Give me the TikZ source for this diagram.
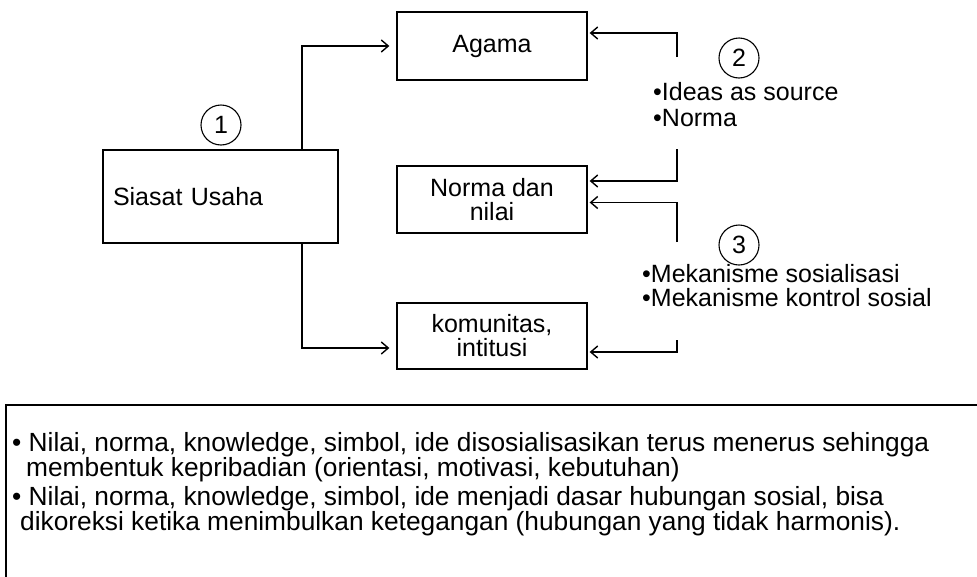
\documentclass[tikz,border=0pt]{standalone}
\usepackage{fontspec}
\setmainfont{Liberation Sans}
\usetikzlibrary{arrows.meta}
\newcommand\fs{\fontsize{25}{24}\selectfont}
\newcommand\fb{\fontsize{26.3}{25}\selectfont}
\begin{document}
\begin{tikzpicture}[x=1pt,y=-1pt,
  box/.style={draw,line width=1.3pt,minimum width=190pt,inner sep=0pt,align=center,font=\fs},
  arr/.style={-{Straight Barb[length=7pt,width=12pt,line width=1.4pt]},line width=1.5pt},
  num/.style={draw,circle,line width=1.1pt,minimum size=40pt,inner sep=0pt,font=\fs},
  lbl/.style={anchor=base west,inner sep=0pt,font=\fs},
  lbb/.style={anchor=base west,inner sep=0pt,font=\fb}]
\useasboundingbox (0,0) rectangle (977,576);
\clip (0,0) rectangle (977,576);

% boxes
\node[box,minimum height=68pt] (agama) at (492,46) {Agama};
\node[box,minimum height=67pt] (norma) at (492,199.5) {Norma dan\\nilai};
\node[box,minimum height=66pt] (komunitas) at (492,336) {komunitas,\\intitusi};
\node[box,minimum width=235pt,minimum height=93pt,text width=215pt,align=left] (siasat) at (220.5,196.5) {Siasat Usaha};

% numbered circles
\node[num] (n1) at (221,125) {1};
\node[num] (n2) at (739,58) {2};
\node[num] (n3) at (739,245) {3};

% side labels
\node[lbl] (t2a) at (653,100) {•Ideas as source};
\node[lbl] (t2b) at (653,126) {•Norma};
\node[lbl] (t3a) at (642,282) {•Mekanisme sosialisasi};
\node[lbl] (t3b) at (642,306) {•Mekanisme kontrol sosial};

% left connectors
\draw[arr] ([xshift=81.5pt]siasat.north) |- ([xshift=-7pt]agama.west);
\draw[arr] ([xshift=81.5pt]siasat.south) |- ([xshift=-7pt,yshift=-12pt]komunitas.west);

% right connectors
\coordinate (a2) at (677,57);
\coordinate (b2) at (677,149);
\coordinate (b3) at (677,242);
\coordinate (c3) at (677,340);
\draw[arr] (a2) |- ([xshift=2pt,yshift=13pt]agama.east);
\draw[arr] (b2) |- ([xshift=2pt,yshift=18.5pt]norma.east);
\draw[arr] (b3) |- ([xshift=2pt,yshift=-3pt]norma.east);
\draw[arr] (c3) |- ([xshift=2pt,yshift=-16pt]komunitas.east);

% bottom box
\draw[line width=1.3pt] (995,405) -- (6,405) -- (6,600);
\node[lbb] (p1) at (12,451) {• Nilai, norma, knowledge, simbol, ide disosialisasikan terus menerus sehingga};
\node[lbb] (p2) at (26,476) {membentuk kepribadian (orientasi, motivasi, kebutuhan)};
\node[lbb] (p3) at (12,505) {• Nilai, norma, knowledge, simbol, ide menjadi dasar hubungan sosial, bisa};
\node[lbb] (p4) at (20,530) {dikoreksi ketika menimbulkan ketegangan (hubungan yang tidak harmonis).};
\end{tikzpicture}
\end{document}
